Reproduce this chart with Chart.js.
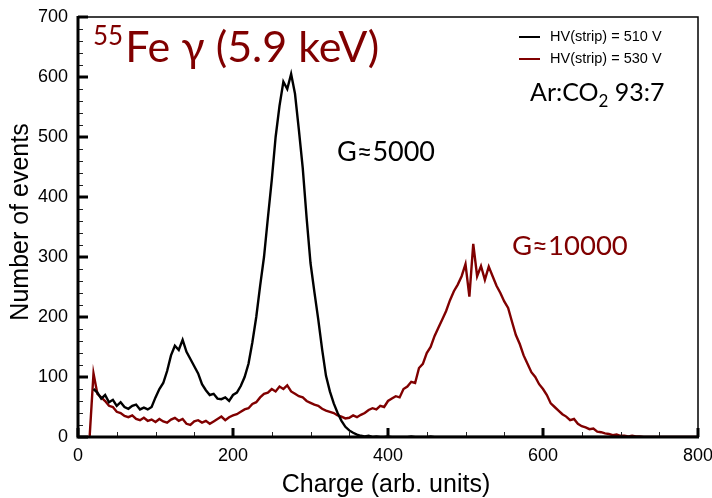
<!DOCTYPE html>
<html>
<head>
<meta charset="utf-8">
<script src="https://cdn.jsdelivr.net/npm/chart.js@4/dist/chart.umd.min.js"></script>
<style>
html,body{margin:0;padding:0;background:#fff;}
canvas{display:block;}
</style>
</head>
<body>
<canvas id="c" width="712" height="498"></canvas>
<script>
// Bin centres (charge, arb. units)
const charge = [
  15,
  20,25,30,35,40,45,50,55,60,65,
  70,75,80,85,90,95,100,105,110,115,
  120,125,130,135,140,145,150,155,160,165,
  170,175,180,185,190,195,200,205,210,215,
  220,225,230,235,240,245,250,255,260,265,
  270,275,280,285,290,295,300,305,310,315,
  320,325,330,335,340,345,350,355,360,365,
  370,375,380,385,390,395,400,405,410,415,
  420,425,430,435,440,445,450,455,460,465,
  470,475,480,485,490,495,500,505,510,515,
  520,525,530,535,540,545,550,555,560,565,
  570,575,580,585,590,595,600,605,610,615,
  620,625,630,635,640,645,650,655,660,665,
  670,675,680,685,690,695,700,705,710,715,
  720,725,730,735,740,745,750,755,760,765,
  770,775,780,785,790,795,800
];
// HV(strip) = 510 V  (G≈5000)
const hv510 = [
  null,
  80,74,64,70,58,62,52,58,50,47,
  52,54,46,49,46,50,66,80,90,110,
  136,152,145,162,142,130,118,106,88,78,
  70,72,64,63,66,60,70,74,85,100,
  122,158,200,252,300,365,428,500,552,592,
  580,605,572,512,448,365,290,242,196,146,
  102,76,56,40,27,17,11,7,4,2,
  1,2,0,1,0,0,1,0,0,0,
  0,0,1,0,0,0,0,1,0,0,
  0,0,0,0,0,0,0,0,0,0,
  0,0,0,0,0,0,0,0,0,0,
  0,0,0,0,0,0,0,0,0,0,
  0,0,0,0,0,0,0,0,0,0,
  0,0,0,0,0,0,0,0,0,0,
  0,0,0,0,0,0,0,0,0,0,
  0,0,0,0,0,0,0
];
// HV(strip) = 530 V  (G≈10000)
const hv530 = [
  0,
  106,72,66,60,52,50,42,40,35,33,
  36,30,28,32,27,29,25,30,26,24,
  29,32,27,30,22,20,26,28,24,27,
  22,26,30,34,28,33,36,38,42,46,
  48,55,58,66,72,74,80,76,84,80,
  86,76,72,68,66,60,57,54,52,47,
  44,42,40,36,34,31,32,36,33,37,
  40,45,48,46,52,50,60,64,68,66,
  80,84,92,90,115,122,140,150,168,182,
  196,210,228,243,254,268,288,234,322,268,
  285,262,284,268,252,240,226,215,192,170,
  155,136,122,108,100,88,80,70,56,50,
  44,38,34,28,30,22,18,16,13,14,
  9,8,6,5,3,4,2,2,1,2,
  1,1,0,0,0,0,0,0,0,0,
  0,0,0,0,0,0,0
];
const seriesLabels = ['HV(strip) = 510 V', 'HV(strip) = 530 V'];
const xTickValues = [0, 200, 400, 600, 800];
const yTickValues = [0, 100, 200, 300, 400, 500, 600, 700];

const BLACK = '#000000';
const DARKRED = '#800000';
const SANS = '"Liberation Sans", Arial, Helvetica, sans-serif';
const CAL = 'Lato, "Open Sans", sans-serif';

function toPoints(xs, ys) {
  return xs.map((v, i) => ({ x: v, y: ys[i] }));
}

const decor = {
  id: 'decor',
  afterDatasetsDraw(chart) {
    const { ctx, chartArea: a, scales } = chart;
    const xs = scales.x, ys = scales.y;
    ctx.save();
    // frame: thin top/right
    ctx.strokeStyle = '#000';
    ctx.lineWidth = 1.5;
    ctx.beginPath();
    ctx.moveTo(a.left, a.top);
    ctx.lineTo(a.right, a.top);
    ctx.lineTo(a.right, a.bottom);
    ctx.stroke();
    // minor ticks
    ctx.lineWidth = 1;
    ctx.strokeStyle = '#222';
    ctx.beginPath();
    for (let v = 0; v <= 800; v += 50) {
      if (v % 200 === 0) continue;
      const p = Math.round(xs.getPixelForValue(v)) + 0.5;
      ctx.moveTo(p, a.bottom); ctx.lineTo(p, a.bottom - 5);
    }
    for (let v = 0; v <= 700; v += 20) {
      if (v % 100 === 0) continue;
      const p = Math.round(ys.getPixelForValue(v)) + 0.5;
      ctx.moveTo(a.left, p); ctx.lineTo(a.left + 5, p);
    }
    ctx.stroke();
    // major ticks
    ctx.lineWidth = 3;
    ctx.strokeStyle = '#000';
    ctx.beginPath();
    xTickValues.forEach(v => {
      const p = xs.getPixelForValue(v);
      ctx.moveTo(p, a.bottom); ctx.lineTo(p, a.bottom - 9);
    });
    yTickValues.forEach(v => {
      const p = ys.getPixelForValue(v);
      ctx.moveTo(a.left, p); ctx.lineTo(a.left + 10, p);
    });
    ctx.stroke();
    // thick left/bottom axes
    ctx.lineWidth = 3;
    ctx.beginPath();
    ctx.moveTo(a.left, a.top - 1);
    ctx.lineTo(a.left, a.bottom);
    ctx.lineTo(a.right + 1, a.bottom);
    ctx.stroke();

    // axis titles
    ctx.fillStyle = '#000';
    ctx.font = '25px ' + SANS;
    ctx.textAlign = 'center';
    ctx.textBaseline = 'middle';
    ctx.fillText('Charge (arb. units)', 386, 485);
    ctx.save();
    ctx.translate(21, 222);
    ctx.rotate(-Math.PI / 2);
    ctx.fillText('Number of events', 0, 0);
    ctx.restore();

    // title 55Fe γ (5.9 keV)
    ctx.textAlign = 'left';
    ctx.textBaseline = 'alphabetic';
    ctx.fillStyle = DARKRED;
    ctx.font = '26px ' + CAL;
    ctx.fillText('55', 93, 45);
    const w55 = ctx.measureText('55').width;
    ctx.font = '43px ' + CAL;
    ctx.fillText('Fe \u03B3 (5.9 keV)', 93 + w55 + 2, 62);

    // gain annotations
    ctx.fillStyle = '#000';
    ctx.font = '27px ' + CAL;
    ctx.fillText('G\u22485000', 337, 161);
    ctx.fillStyle = DARKRED;
    ctx.font = '27.5px ' + CAL;
    ctx.fillText('G\u224810000', 512, 255);

    // gas mixture
    ctx.fillStyle = '#000';
    let gx = 530;
    ctx.font = '25px ' + CAL;
    ctx.fillText('Ar:CO', gx, 101);
    gx += ctx.measureText('Ar:CO').width;
    ctx.font = '17px ' + CAL;
    ctx.fillText('2', gx, 107);
    gx += ctx.measureText('2').width;
    ctx.font = '25px ' + CAL;
    ctx.fillText(' 93:7', gx, 101);

    // legend
    const legY = [37, 59];
    chart.data.datasets.forEach((ds, i) => {
      ctx.strokeStyle = ds.borderColor;
      ctx.lineWidth = 2;
      ctx.beginPath();
      ctx.moveTo(519, legY[i]); ctx.lineTo(540, legY[i]);
      ctx.stroke();
      ctx.fillStyle = '#000';
      ctx.font = '14.5px ' + SANS;
      ctx.textBaseline = 'middle';
      ctx.fillText(ds.label, 550, legY[i]);
    });
    ctx.restore();
  }
};

new Chart(document.getElementById('c'), {
  type: 'line',
  data: {
    datasets: [
      {
        label: seriesLabels[0],
        data: toPoints(charge, hv510),
        borderColor: BLACK,
        borderWidth: 2.4,
        pointRadius: 0,
        tension: 0,
        fill: false,
        spanGaps: false
      },
      {
        label: seriesLabels[1],
        data: toPoints(charge, hv530),
        borderColor: DARKRED,
        borderWidth: 2.4,
        pointRadius: 0,
        tension: 0,
        fill: false
      }
    ]
  },
  options: {
    responsive: false,
    animation: false,
    devicePixelRatio: 1,
    layout: { padding: { top: 17, right: 14, left: 0, bottom: 0 } },
    plugins: { legend: { display: false }, tooltip: { enabled: false } },
    scales: {
      x: {
        type: 'linear',
        min: 0, max: 800,
        border: { display: false },
        grid: { display: false },
        afterBuildTicks: s => { s.ticks = xTickValues.map(v => ({ value: v })); },
        ticks: { color: '#000', font: { family: SANS, size: 18 }, padding: 0, maxRotation: 0 },
        afterFit: s => { s.height = 61; s.paddingLeft = 0; s.paddingRight = 0; }
      },
      y: {
        min: 0, max: 700,
        border: { display: false },
        grid: { display: false },
        afterBuildTicks: s => { s.ticks = yTickValues.map(v => ({ value: v })); },
        ticks: { color: '#000', font: { family: SANS, size: 18 }, padding: 2 },
        afterFit: s => { s.width = 78; s.paddingTop = 0; s.paddingBottom = 0; }
      }
    }
  },
  plugins: [decor]
});
</script>
</body>
</html>
